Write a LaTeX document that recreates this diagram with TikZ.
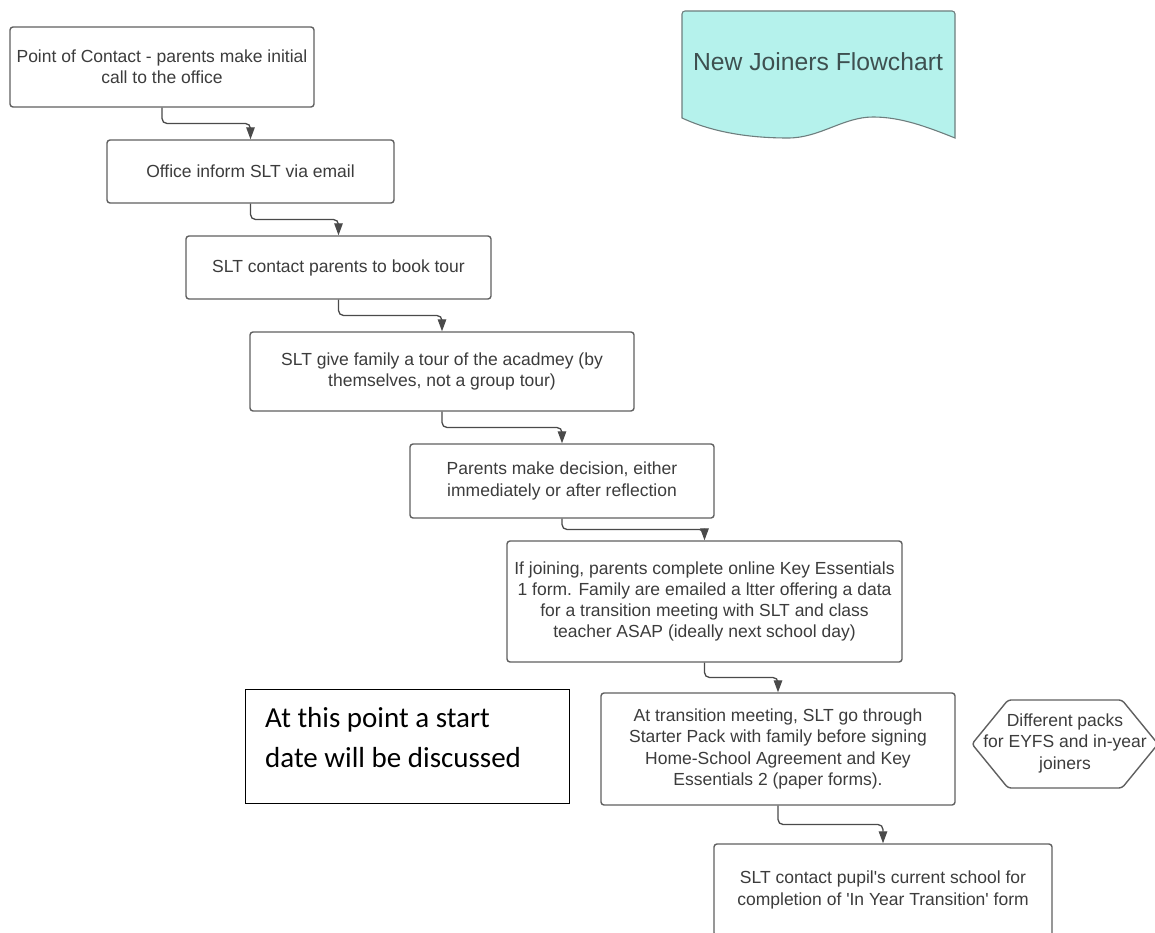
\documentclass[tikz,border=0pt]{standalone}
\usepackage{fontspec}
\setmainfont{Liberation Sans}
\newfontfamily\lsans{Liberation Sans}
\newfontfamily\calib{Carlito}
\usetikzlibrary{arrows.meta,calc}
\definecolor{boxline}{HTML}{606060}
\definecolor{txt}{HTML}{3C3C3C}
\definecolor{connc}{HTML}{4A4A4A}
\definecolor{teal}{RGB}{181,242,236}
\definecolor{tealline}{HTML}{6E7E7E}
\definecolor{titletxt}{HTML}{3E5050}
\tikzset{
  flowbox/.style={draw=boxline, line width=1.4pt, rounded corners=3pt, fill=white,
    inner sep=0pt, align=center, text=txt,
    font=\lsans\fontsize{17.5}{21.3}\selectfont},
  conn/.style={draw=connc, line width=1.3pt, rounded corners=5pt,
    -{Triangle[length=12pt,width=8.5pt]}},
  hextext/.style={align=center, text=txt, inner sep=0pt,
    font=\lsans\fontsize{17.5}{21.5}\selectfont},
}
\begin{document}
\begin{tikzpicture}[x=1pt,y=-1pt]
\fill[white] (0,0) rectangle (1155,933);
\useasboundingbox (0,0) rectangle (1155,933);

% title document shape
\draw[draw=tealline, line width=1.1pt, fill=teal, rounded corners=3pt]
  (682,118) -- (682,11) -- (955,11) [sharp corners] -- (955,138)
  .. controls (925,126) and (900,117) .. (873,117)
  .. controls (843,117) and (820,138) .. (788,138)
  .. controls (745,138) and (710,131) .. (682,118) -- cycle;
\node (title) [text=titletxt, font=\lsans\fontsize{24.7}{28}\selectfont, inner sep=0pt]
  at (818,62) {New Joiners Flowchart};

% boxes
\node (b1) [flowbox, minimum width=304, minimum height=80] at (162,67)
  {Point of Contact - parents make initial\\call to the office};
\node (b2) [flowbox, minimum width=287, minimum height=63] at (250.5,171.5)
  {Office inform SLT via email};
\node (b3) [flowbox, minimum width=305, minimum height=63] at (338.5,267.5)
  {SLT contact parents to book tour};
\node (b4) [flowbox, minimum width=384, minimum height=79] at (442,371.5)
  {SLT give family a tour of the acadmey (by\\themselves, not a group tour)};
\node (b5) [flowbox, minimum width=304, minimum height=74] at (562,481)
  {Parents make decision, either\\immediately or after reflection};
\node (b6) [flowbox, minimum width=395, minimum height=121] at (704.5,601.5)
  {If joining, parents complete online Key Essentials\\1 form. Family are emailed a ltter offering a data\\for a transition meeting with SLT and class\\teacher ASAP (ideally next school day)};
\node (b7) [flowbox, minimum width=354, minimum height=112] at (778,749)
  {At transition meeting, SLT go through\\Starter Pack with family before signing\\Home-School Agreement and Key\\Essentials 2 (paper forms).};
\node (b8) [flowbox, minimum width=338, minimum height=92] at (883,890)
  {SLT contact pupil\textquotesingle s current school for\\completion of \textquotesingle In Year Transition\textquotesingle\ form};

% connectors
\draw[conn] (b1.south) |- ($(b1.south)!.5!(b2.north)$) -| (b2.north);
\draw[conn] (b2.south) |- ($(b2.south)!.5!(b3.north)$) -| (b3.north);
\draw[conn] (b3.south) |- ($(b3.south)!.5!(b4.north)$) -| (b4.north);
\draw[conn] (b4.south) |- ($(b4.south)!.5!(b5.north)$) -| (b5.north);
\draw[conn] (b5.south) |- ($(b5.south)!.5!(b6.north)$) -| (b6.north);
\draw[conn] (b6.south) |- ($(b6.south)!.5!(b7.north)$) -| (b7.north);
\draw[conn] (b7.south) |- ($(b7.south)!.5!(b8.north)$) -| (b8.north);

% hexagon note
\draw[draw=boxline, line width=1.4pt, fill=white, rounded corners=3pt]
  (972,744) -- (1008,700) -- (1122,700) -- (1158,744) -- (1122,788) -- (1008,788) -- cycle;
\node (hex) [hextext] at (1065,743) {Different packs\\for EYFS and in-year\\joiners};

% note box
\node (note) [draw=black, line width=0.9pt, minimum width=324, minimum height=114, inner sep=0pt] at (407,746) {};
\node (notetext) [anchor=north west, inner sep=0pt, align=left, text=black,
  font=\calib\fontsize{29}{40}\selectfont] at (265,707)
  {At this point a start\\date will be discussed};
\end{tikzpicture}
\end{document}
